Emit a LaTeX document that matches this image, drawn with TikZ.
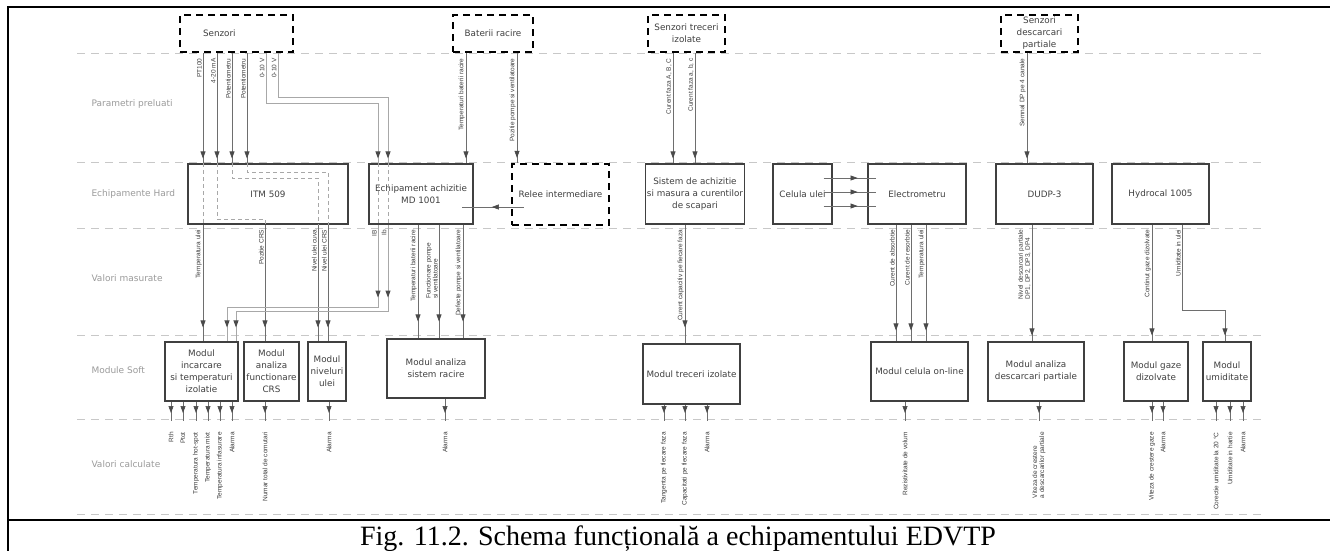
\documentclass[tikz,border=0pt]{standalone}
\usepackage{fontspec}
\setmainfont{DejaVu Sans}
\newfontfamily\lblfont{Liberation Sans}
\newfontfamily\capfont{Liberation Serif}
\usetikzlibrary{arrows.meta, decorations.markings}
\definecolor{boxgray}{HTML}{404040}
\definecolor{txtgray}{HTML}{404040}
\definecolor{linegray}{HTML}{6E6E6E}
\definecolor{tipgray}{HTML}{4A4A4A}
\definecolor{passgray}{HTML}{A8A8A8}
\definecolor{sepgray}{HTML}{C8C8C8}
\definecolor{rowgray}{HTML}{9A9A9A}
\definecolor{labgray}{HTML}{3C3C3C}

\begin{document}
\begin{tikzpicture}[
    x=1pt, y=-1pt, every node/.style={align=center},
    hw/.style={draw=boxgray, line width=1.1pt, fill=white, minimum height=60pt, inner sep=1pt, text=txtgray, font=\fontsize{8.8}{12}\selectfont},
    sw/.style={hw, minimum height=59pt},
    src/.style={draw=black, line width=2.3pt, dash pattern=on 7pt off 5pt, fill=white, minimum height=37pt, inner sep=1pt, text=txtgray, font=\fontsize{8.8}{12}\selectfont},
    sep/.style={draw=sepgray, line width=0.7pt, dash pattern=on 8pt off 6pt},
    rowlab/.style={anchor=west, text=rowgray, font=\fontsize{9}{11}\selectfont},
    uplab/.style={rotate=90, anchor=south east, inner xsep=5pt, inner ysep=1pt, align=left, text=labgray, font=\lblfont\fontsize{6.5}{7}\selectfont},
    downlab/.style={rotate=90, anchor=east, inner xsep=11pt, inner ysep=1pt, align=left, text=labgray, font=\lblfont\fontsize{6.5}{7}\selectfont},
    flow/.style={draw=linegray, line width=0.6pt, postaction={decorate},
        decoration={markings, mark=at position -#1 with {\arrow{Triangle[length=7pt, width=5pt, color=tipgray]}}}},
    flow/.default=5pt,
    pass/.style={flow=#1, draw=passgray, line width=0.9pt},
    pass/.default=5pt,
    passtwo/.style={draw=passgray, line width=0.9pt, postaction={decorate},
        decoration={markings, mark=at position 73pt with {\arrow{Triangle[length=7pt, width=5pt, color=tipgray]}},
                    mark=at position -14pt with {\arrow{Triangle[length=7pt, width=5pt, color=tipgray]}}}},
    inner/.style={draw=passgray, line width=0.8pt, dash pattern=on 4pt off 3pt}
]
\useasboundingbox (0,0) rectangle (1330,550);

% frame and caption
\draw[line width=2pt] (8,560) -- (8,7) -- (1340,7);
\draw[line width=2pt] (8,520) -- (1340,520);
\node[anchor=base, font=\capfont\fontsize{28}{30}\selectfont] (cap) at (678,545) {Fig. 11.2. Schema funcțională a echipamentului EDVTP};

% rows
\foreach \y in {53,162,228,335,419,514}
    \draw[sep] (77,\y) -- (1265,\y);
\node[rowlab] (rP) at (88,104) {Parametri preluati};
\node[rowlab] (rH) at (88,194) {Echipamente Hard};
\node[rowlab] (rM) at (88,278) {Valori masurate};
\node[rowlab] (rS) at (88,370) {Module Soft};
\node[rowlab] (rC) at (88,464) {Valori calculate};
\coordinate (calcTop) at (0,421);

% sensors
\node[src, minimum width=113pt, text width=67pt, inner xsep=23pt, align=left] (senz) at (236.5,33.5) {Senzori};
\node[src, minimum width=80pt] (bat) at (493,33.5) {Baterii racire};
\node[src, minimum width=77pt] (sti) at (686.5,33.5) {Senzori treceri\\izolate};
\node[src, minimum width=77pt] (sdp) at (1039.5,33.5) {Senzori\\descarcari\\partiale};

% hardware
\node[hw, minimum width=160pt] (itm) at (268,194) {ITM 509};
\node[hw, minimum width=104pt] (md) at (421,194) {Echipament achizitie\\MD 1001};
\node[src, minimum width=97pt, minimum height=61pt] (relee) at (560.5,194.5) {Relee intermediare};
\node[hw, minimum width=96pt] (sist) at (695,194) {Sistem de achizitie\\si masura a curentilor\\de scapari};
\node[hw, minimum width=59pt] (cel) at (802.5,194) {Celula ulei};
\node[hw, minimum width=98pt] (elec) at (917,194) {Electrometru};
\node[hw, minimum width=97pt] (dudp) at (1044.5,194) {DUDP-3};
\node[hw, minimum width=97pt] (hyd) at (1160.5,194) {Hydrocal 1005};

% software
\node[sw, minimum width=73pt] (mInc) at (201.5,371.5) {Modul\\incarcare\\si temperaturi\\izolatie};
\node[sw, minimum width=55pt] (mCrs) at (271.5,371.5) {Modul\\analiza\\functionare\\CRS};
\node[sw, minimum width=38pt] (mNiv) at (327,371.5) {Modul\\niveluri\\ulei};
\node[sw, minimum width=98pt] (mRac) at (436,368.5) {Modul analiza\\sistem racire};
\node[sw, minimum width=97pt, minimum height=60pt] (mTre) at (691.5,374) {Modul treceri izolate};
\node[sw, minimum width=97pt] (mCel) at (919.5,371.5) {Modul celula on-line};
\node[sw, minimum width=96pt] (mDp) at (1036,371.5) {Modul analiza\\descarcari partiale};
\node[sw, minimum width=64pt] (mGaz) at (1156,371.5) {Modul gaze\\dizolvate};
\node[sw, minimum width=48pt] (mUmi) at (1227,371.5) {Modul\\umiditate};

% paths inside ITM 509 and MD 1001
\draw[inner] (203,0 |- itm.north) -- (203,0 |- itm.south);
\draw[inner] (217,0 |- itm.north) |- (265,219) -- (265,0 |- itm.south);
\draw[inner] (232,0 |- itm.north) |- (318,178) -- (318,0 |- itm.south);
\draw[inner] (247,0 |- itm.north) |- (328,172) -- (328,0 |- itm.south);
\draw[inner] (378,0 |- md.north) -- (378,0 |- md.south);
\draw[inner] (388,0 |- md.north) -- (388,0 |- md.south);

% parametri preluati
\draw[flow] (203,0 |- senz.south) node[uplab] {PT100} -- (203,0 |- itm.north);
\draw[flow] (217,0 |- senz.south) node[uplab] {4-20 mA} -- (217,0 |- itm.north);
\draw[flow] (232,0 |- senz.south) node[uplab] {Potentiometru} -- (232,0 |- itm.north);
\draw[flow] (247,0 |- senz.south) node[uplab] {Potentiometru} -- (247,0 |- itm.north);
\draw[pass] (266,0 |- senz.south) node[uplab] {0-10 V} |- (378,103) -- (378,0 |- md.north);
\draw[pass] (278,0 |- senz.south) node[uplab] {0-10 V} |- (388,97) -- (388,0 |- md.north);
\draw[flow] (466,0 |- bat.south) node[uplab] {Temperaturi baterii racire} -- (466,0 |- md.north);
\draw[flow] (517,0 |- bat.south) node[uplab] {Pozitie pompe si ventilatoare} -- (517,0 |- relee.north);
\draw[flow] (673,0 |- sti.south) node[uplab] {Curent faza A, B, C} -- (673,0 |- sist.north);
\draw[flow] (695,0 |- sti.south) node[uplab] {Curent faza a, b, c} -- (695,0 |- sist.north);
\draw[flow] (1027,0 |- sdp.south) node[uplab] {Semnal DP pe 4 canale} -- (1027,0 |- dudp.north);

% hardware links
\draw[flow=30pt] (relee.west) ++(13,12.5) -- ++(-62,0);
\foreach \dy in {-16,-2,12}
    \draw[flow=18pt] (cel.east) ++(-9,\dy) -- ++(52,0);

% valori masurate
\draw[flow=14pt] (203,0 |- itm.south) node[uplab] {Temperatura ulei} -- (203,0 |- mInc.north);
\draw[flow=14pt] (265,0 |- itm.south) node[uplab] {Pozitie CRS} -- (265,0 |- mCrs.north);
\draw[flow=14pt] (318,0 |- itm.south) node[uplab] {Nivel ulei cuva} -- (318,0 |- mNiv.north);
\draw[flow=14pt] (328,0 |- itm.south) node[uplab] {Nivel ulei CRS} -- (328,0 |- mNiv.north);
\draw[passtwo] (378,0 |- md.south) node[uplab] {IB} |- (227,307) -- (227,0 |- mInc.north);
\draw[passtwo] (388,0 |- md.south) node[uplab] {Ib} |- (236,311) -- (236,0 |- mInc.north);
\draw[flow=17pt] (418,0 |- md.south) node[uplab] {Temperaturi baterii racire} -- (418,0 |- mRac.north);
\draw[flow=17pt] (439,0 |- md.south) node[uplab, inner xsep=18pt] {Functionare pompe\\si ventilatoare} -- (439,0 |- mRac.north);
\draw[flow=17pt] (463,0 |- md.south) node[uplab] {Defecte pompe si ventilatoare} -- (463,0 |- mRac.north);
\draw[flow=16pt] (685,0 |- sist.south) node[uplab] {Curent capacitiv pe fiecare faza} -- (685,0 |- mTre.north);
\draw[flow=11pt] (896,0 |- elec.south) node[uplab] {Curent de absorbtie} -- (896,0 |- mCel.north);
\draw[flow=11pt] (911,0 |- elec.south) node[uplab] {Curent de resorbtie} -- (911,0 |- mCel.north);
\draw[flow=11pt] (926,0 |- elec.south) node[uplab] {Temperatura ulei} -- (926,0 |- mCel.north);
\draw[flow=6pt] (1032,0 |- dudp.south) node[uplab] {Nivel descarcari partiale\\DP1, DP2, DP3, DP4} -- (1032,0 |- mDp.north);
\draw[flow=6pt] (1152,0 |- hyd.south) node[uplab] {Continut gaze dizolvate} -- (1152,0 |- mGaz.north);
\draw[flow=6pt] (1182,0 |- hyd.south) node[uplab] {Umiditate in ulei} |- (1225,310) -- (1225,0 |- mUmi.north);

% valori calculate
\foreach \x/\t in {171/Rth, 183/Ptot, 196/Temperatura hot-spot, 208/Temperatura mixt, 220/Temperatura infasurare, 232/Alarma}
    \draw[flow=8pt] (\x,0 |- mInc.south) -- (\x,0 |- calcTop) node[downlab] {\t};
\draw[flow=8pt] (265,0 |- mCrs.south) -- (265,0 |- calcTop) node[downlab] {Numar total de comutari};
\draw[flow=8pt] (329,0 |- mNiv.south) -- (329,0 |- calcTop) node[downlab] {Alarma};
\draw[flow=8pt] (445,0 |- mRac.south) -- (445,0 |- calcTop) node[downlab] {Alarma};
\foreach \x/\t in {664/Tangenta pe fiecare faza, 685/Capacitati pe fiecare faza, 707/Alarma}
    \draw[flow=8pt] (\x,0 |- mTre.south) -- (\x,0 |- calcTop) node[downlab] {\t};
\draw[flow=8pt] (905,0 |- mCel.south) -- (905,0 |- calcTop) node[downlab] {Rezistivitate de volum};
\draw[flow=8pt] (1039,0 |- mDp.south) -- (1039,0 |- calcTop) node[downlab] {Viteza de crestere\\a descarcarilor partiale};
\draw[flow=8pt] (1152,0 |- mGaz.south) -- (1152,0 |- calcTop) node[downlab] {Viteza de crestere gaze};
\draw[flow=8pt] (1163,0 |- mGaz.south) -- (1163,0 |- calcTop) node[downlab] {Alarma};
\foreach \x/\t in {1216/Corectie umiditate la 20 °C, 1230/Umiditate in hartie, 1243/Alarma}
    \draw[flow=8pt] (\x,0 |- mUmi.south) -- (\x,0 |- calcTop) node[downlab] {\t};

\end{tikzpicture}
\end{document}
